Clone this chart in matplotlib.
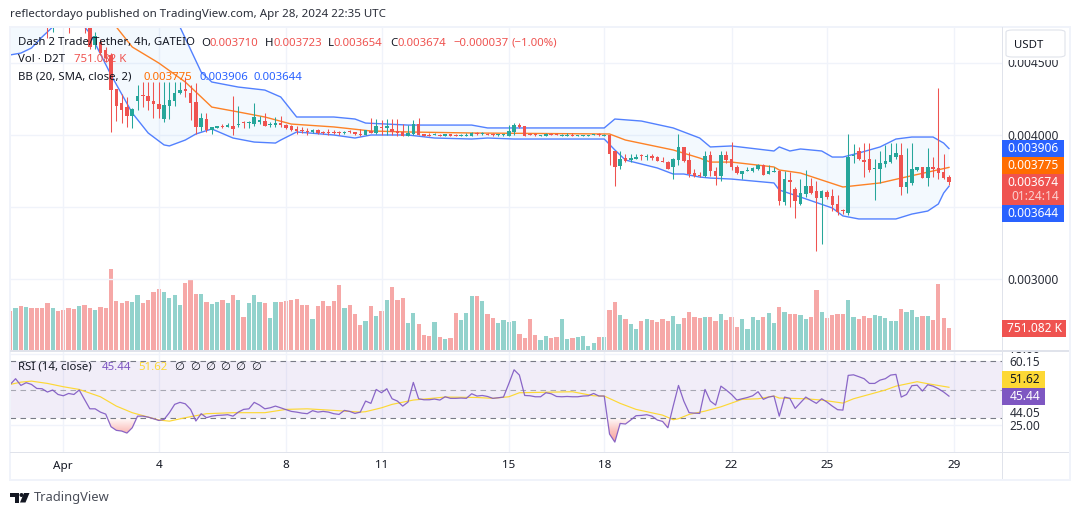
import matplotlib
matplotlib.use("Agg")
import matplotlib.pyplot as plt
import numpy as np
from matplotlib.patches import Polygon, Rectangle, FancyBboxPatch, Ellipse
from matplotlib.path import Path

W, H = 1080, 515

# prices are in millionths of USDT, bar 0 = Apr 1 00:00, one bar = 4h
bar_first, bar_last = -10, 167

open_p = [
    4960, 4930, 5010, 4970, 5060, 4990, 4920, 4880, 4790, 4860,
    4850, 4830, 4850, 4790, 4790, 4741, 4625, 4648, 4590, 4556,
    4317, 4220, 4197, 4134, 4238, 4278, 4271, 4236, 4213, 4111,
    4201, 4236, 4289, 4317, 4289, 4227, 4058, 4111, 4035, 4048,
    4065, 4058, 4062, 4069, 4090, 4086, 4076, 4092, 4097, 4067,
    4067, 4081, 4069, 4062, 4042, 4035, 4028, 4018, 4035, 4018,
    4021, 4018, 4016, 4012, 4025, 4018, 4007, 4000, 4030, 4016,
    4053, 4051, 4039, 4030, 4023, 3995, 4007, 4076, 4007, 4002,
    4000, 4002, 3993, 4007, 4002, 3995, 3995, 3995, 4016, 4005,
    4009, 4005, 3998, 3998, 3995, 4023, 4067, 4062, 4009, 4005,
    3995, 3995, 4009, 4009, 3995, 3995, 4002, 3995, 3995, 3995,
    4000, 4005, 3995, 4000, 3886, 3783, 3838, 3826, 3833, 3856,
    3849, 3852, 3849, 3819, 3812, 3778, 3826, 3917, 3826, 3736,
    3724, 3715, 3861, 3748, 3715, 3861, 3833, 3780, 3729, 3748,
    3750, 3764, 3794, 3729, 3745, 3750, 3537, 3687, 3625, 3518,
    3590, 3646, 3611, 3565, 3604, 3576, 3521, 3477, 3461, 3856,
    3891, 3826, 3833, 3766, 3766, 3799, 3815, 3845, 3861, 3641,
    3669, 3757, 3775, 3704, 3775, 3769, 3741, 3710,
]
high_p = [
    5000, 5040, 5060, 5100, 5120, 5050, 4980, 4960, 4900, 4920,
    4900, 4900, 4880, 4920, 4860, 4790, 4712, 4670, 4610, 4570,
    4317, 4285, 4266, 4185, 4347, 4366, 4366, 4366, 4366, 4366,
    4366, 4366, 4366, 4405, 4347, 4359, 4155, 4150, 4058, 4065,
    4076, 4086, 4271, 4201, 4097, 4097, 4224, 4132, 4155, 4092,
    4123, 4132, 4076, 4069, 4062, 4058, 4046, 4039, 4039, 4030,
    4039, 4035, 4030, 4028, 4032, 4023, 4039, 4035, 4116, 4109,
    4104, 4109, 4109, 4109, 4076, 4067, 4104, 4116, 4007, 4011,
    4014, 4009, 4007, 4007, 4009, 4007, 4014, 4018, 4018, 4018,
    4014, 4011, 4007, 4009, 4069, 4081, 4083, 4062, 4014, 4011,
    4000, 4011, 4011, 4014, 4009, 4011, 4011, 4000, 4000, 4000,
    4009, 4011, 4007, 4000, 3886, 3889, 3866, 3866, 3866, 3866,
    3866, 3866, 3851, 3845, 3816, 3838, 4007, 3917, 3880, 3762,
    3740, 3889, 3889, 3780, 3889, 3889, 3951, 3792, 3750, 3775,
    3780, 3799, 3799, 3792, 3775, 3757, 3750, 3745, 3636, 3692,
    3757, 3702, 3678, 3618, 3618, 3625, 3583, 3486, 4007, 3938,
    3919, 3947, 3942, 3831, 3889, 3933, 3942, 3945, 3942, 3907,
    3942, 3778, 3778, 3907, 3845, 4324, 3868, 3723,
]
low_p = [
    4900, 4900, 4950, 4940, 4960, 4880, 4830, 4676, 4718, 4770,
    4780, 4706, 4760, 4770, 4706, 4600, 4597, 4555, 4510, 4023,
    4099, 4081, 4053, 4046, 4174, 4192, 4174, 4116, 4116, 4092,
    4109, 4201, 4283, 4266, 4104, 4007, 4030, 4023, 4007, 4046,
    4046, 4053, 4000, 4053, 4048, 4048, 4062, 4076, 4062, 4053,
    4058, 4058, 4039, 4030, 4007, 4012, 4000, 4012, 4005, 4005,
    4000, 4005, 4000, 4005, 4012, 4000, 3995, 4000, 4011, 4007,
    4000, 4000, 4000, 3993, 3993, 3993, 4000, 4000, 3993, 3993,
    3998, 3993, 3993, 3993, 3993, 3993, 3993, 3993, 4000, 4002,
    3998, 3993, 3993, 3993, 3993, 4002, 4046, 3993, 3998, 3993,
    3995, 3993, 3998, 3998, 3993, 3993, 3993, 3993, 3995, 3995,
    3998, 3993, 3993, 3792, 3646, 3764, 3812, 3810, 3833, 3824,
    3826, 3826, 3817, 3810, 3764, 3695, 3792, 3810, 3711, 3708,
    3710, 3708, 3715, 3653, 3680, 3803, 3760, 3729, 3692, 3748,
    3745, 3757, 3722, 3729, 3745, 3514, 3514, 3502, 3424, 3514,
    3572, 3590, 3197, 3245, 3558, 3470, 3444, 3451, 3444, 3803,
    3824, 3711, 3745, 3551, 3664, 3780, 3803, 3833, 3583, 3597,
    3653, 3752, 3704, 3646, 3711, 3692, 3692, 3654,
]
close_p = [
    4930, 5010, 4970, 5060, 4990, 4920, 4880, 4800, 4860, 4800,
    4810, 4770, 4790, 4850, 4760, 4613, 4690, 4567, 4532, 4312,
    4201, 4174, 4134, 4178, 4271, 4273, 4238, 4215, 4180, 4208,
    4243, 4289, 4312, 4308, 4220, 4058, 4116, 4035, 4053, 4062,
    4058, 4067, 4042, 4074, 4086, 4090, 4123, 4104, 4065, 4074,
    4081, 4067, 4046, 4035, 4030, 4025, 4021, 4032, 4012, 4014,
    4014, 4014, 4012, 4023, 4018, 4005, 4002, 4035, 4016, 4062,
    4046, 4062, 4023, 4011, 3995, 4016, 4074, 4000, 3995, 3995,
    4007, 3995, 4007, 3993, 3995, 4000, 4002, 4016, 4009, 4011,
    4002, 3998, 4000, 4002, 4030, 4067, 4053, 3995, 4002, 3998,
    4000, 4009, 4002, 4002, 4002, 4002, 3995, 3998, 3998, 3998,
    4007, 3998, 4002, 3868, 3778, 3833, 3817, 3840, 3849, 3852,
    3856, 3843, 3819, 3815, 3766, 3833, 3917, 3819, 3729, 3715,
    3715, 3854, 3752, 3715, 3861, 3826, 3780, 3734, 3748, 3757,
    3769, 3794, 3722, 3748, 3750, 3544, 3694, 3676, 3542, 3595,
    3646, 3599, 3565, 3611, 3572, 3514, 3468, 3472, 3845, 3861,
    3831, 3815, 3757, 3771, 3803, 3819, 3861, 3877, 3641, 3676,
    3764, 3775, 3704, 3775, 3762, 3738, 3704, 3674,
]

# volume, thousands of D2T
volume_k = [
    1331, 1434, 1502, 1468, 1434, 1434, 1434, 1605, 1434, 1331,
    1366, 1434, 1400, 1502, 1536, 1434, 1366, 1468, 1434, 2765,
    1673, 1605, 1673, 1639, 1878, 1605, 1707, 1980, 2083, 1980,
    1775, 1878, 1536, 2287, 2390, 1912, 1912, 1639, 1570, 1639,
    1707, 1605, 1878, 1707, 1127, 1605, 1878, 1639, 1605, 1092,
    1639, 1639, 1673, 1707, 1741, 1536, 1536, 1058, 1502, 1673,
    1502, 1673, 2219, 1434, 1536, 1229, 854, 990, 1502, 1161,
    1331, 1707, 2151, 1707, 1775, 922, 1263, 888, 512, 478,
    956, 444, 376, 410, 1263, 1024, 1263, 1844, 1844, 1673,
    1229, 1092, 922, 1024, 956, 990, 546, 410, 1058, 512,
    341, 478, 410, 444, 1058, 376, 410, 444, 478, 137,
    239, 444, 444, 1366, 1639, 1195, 1058, 888, 717, 990,
    1058, 1024, 956, 1058, 990, 1161, 888, 1092, 1297, 1127,
    1092, 1127, 1127, 990, 1229, 1024, 1127, 785, 1058, 717,
    1127, 1024, 1127, 1263, 922, 1468, 1297, 1229, 1229, 1195,
    1058, 1127, 2048, 1297, 1092, 1195, 1229, 1229, 1707, 1127,
    1058, 1161, 1092, 1195, 1161, 1092, 990, 990, 1400, 1297,
    1366, 1127, 1161, 1161, 1024, 2253, 1092, 751,
]

# bollinger lines, read at their vertices (bar, value)
bb_upper_bars = [-10, 5, 15, 19, 22, 26, 28, 33, 38, 41, 44, 51, 55, 57, 65, 77, 80, 102, 104, 109,
                 115, 120, 122, 126, 134, 135, 137, 139, 143, 145, 147, 150, 154, 157, 160, 164, 166, 167]
bb_upper = [5300, 5400, 5200, 4980, 4750, 4437, 4368, 4333, 4312, 4264, 4125, 4125, 4111, 4083, 4069, 4069, 4049, 4049, 4111, 4097,
            4049, 3979, 3917, 3924, 3889, 3917, 3889, 3903, 3889, 3847, 3847, 3875, 3917, 3972, 3986, 3986, 3944, 3906]
bb_mid_bars = [-10, 0, 5, 10, 13, 18, 23, 26, 28, 33, 38, 43, 51, 58, 65, 77, 103, 106, 115, 120,
               122, 126, 134, 135, 139, 147, 154, 158, 167]
bb_mid = [4930, 4900, 4860, 4750, 4611, 4500, 4368, 4264, 4194, 4160, 4125, 4076, 4056, 4028, 4021, 4014, 4007, 3965, 3896, 3840,
          3812, 3812, 3778, 3757, 3736, 3639, 3667, 3701, 3775]
bb_lower_bars = [-10, -8, -6, -4, -2, -1, 2, 4, 5, 9, 13, 16, 19, 20, 23, 25, 28, 32, 36, 40,
                 41, 44, 51, 55, 58, 65, 70, 77, 80, 85, 102, 104, 106, 112, 115, 117, 120, 122, 126, 134,
                 135, 139, 145, 147, 150, 154, 157, 160, 163, 165, 166, 167]
bb_lower = [4556, 4569, 4604, 4681, 4750, 4850, 4850, 4750, 4708, 4417, 4153, 4014, 3931, 3924, 3965, 4007, 4042, 3979, 3951, 3944,
            3965, 4021, 4000, 3979, 4000, 4000, 3979, 3972, 3979, 3972, 3972, 3896, 3826, 3771, 3729, 3729, 3708, 3701, 3694, 3667,
            3618, 3569, 3493, 3438, 3417, 3417, 3417, 3451, 3472, 3521, 3597, 3644]

rsi = [
    53.6, 57.6, 52.9, 54.8, 53.6, 50.8, 50.6, 48.3, 49.7, 46.6,
    45.7, 47.3, 46.6, 49.7, 43.2, 36.6, 36.6, 34.3, 32.9, 24.1,
    21.6, 21.1, 19.7, 23.4, 31.5, 31.5, 30.8, 29.7, 28.5, 29.2,
    33.9, 39.7, 41.1, 40.1, 36.2, 28.1, 33.2, 30.4, 31.5, 32.0,
    32.2, 32.5, 31.5, 34.3, 36.2, 36.6, 41.1, 39.2, 36.6, 37.3,
    38.5, 37.3, 36.0, 34.8, 34.3, 33.6, 33.2, 35.3, 34.3, 34.8,
    34.3, 33.2, 32.7, 35.5, 34.8, 33.4, 34.3, 42.0, 40.4, 50.1,
    47.8, 50.6, 43.6, 42.0, 38.5, 41.3, 55.0, 43.6, 42.9, 42.9,
    43.4, 42.7, 45.0, 43.9, 43.9, 44.1, 43.9, 47.1, 45.5, 45.9,
    45.2, 43.9, 44.3, 44.8, 54.1, 63.8, 60.1, 45.9, 45.7, 45.0,
    45.0, 47.8, 47.1, 45.2, 45.0, 45.2, 45.0, 45.0, 45.5, 45.7,
    47.3, 45.5, 45.5, 19.0, 13.4, 26.4, 26.0, 28.8, 31.8, 32.0,
    32.5, 31.5, 28.8, 27.8, 23.4, 38.5, 52.9, 42.0, 33.9, 33.6,
    33.4, 50.1, 42.0, 39.2, 52.4, 49.7, 46.6, 42.7, 43.6, 44.5,
    45.7, 48.5, 43.2, 44.8, 45.5, 31.5, 44.8, 43.9, 36.9, 40.8,
    44.8, 42.5, 40.4, 43.6, 41.3, 38.5, 36.0, 35.7, 59.9, 60.3,
    59.0, 57.6, 54.3, 54.3, 56.6, 57.6, 60.1, 60.6, 44.8, 46.6,
    52.7, 53.1, 49.0, 53.4, 52.4, 50.6, 48.3, 45.44,
]
rsi_ma_bars = [-10, -8, -6, -3, 0, 3, 7, 10, 13, 18, 20, 23, 27, 32, 38, 42, 46, 51, 56, 57,
               60, 62, 66, 72, 78, 81, 84, 86, 96, 100, 102, 105, 108, 113, 115, 116, 118, 121, 124, 128,
               131, 134, 135, 140, 143, 147, 149, 155, 157, 161, 163, 167]
rsi_ma = [53.6, 55.2, 55.9, 54.3, 52.0, 50.1, 45.0, 38.5, 33.9, 28.8, 28.0, 30.4, 33.2, 33.9, 33.9, 36.2, 36.6, 35.5, 34.3, 34.6,
          37.3, 39.7, 42.7, 44.8, 44.5, 43.9, 45.0, 47.8, 48.5, 45.7, 45.5, 40.4, 36.2, 32.2, 29.0, 29.7, 32.7, 35.0, 38.0, 43.2,
          43.6, 45.5, 44.1, 43.6, 42.7, 40.6, 43.6, 49.7, 52.4, 55.5, 54.1, 51.62]

tick_bars = [0, 18, 42, 60, 84, 102, 126, 144, 168]
tick_labels = ["Apr", "4", "8", "11", "15", "18", "22", "25", "29"]
price_ticks = [3000, 3500, 4000, 4500]
price_tick_labels = ["0.003000", "", "0.004000", "0.004500"]

GREEN = "#26a69a"
RED = "#ef5350"
BLUE = "#2962ff"
ORANGE = "#ff6d00"
PURPLE = "#7e57c2"
YELLOW = "#fdd835"
GRID = "#f0f3fa"
EDGE = "#e0e3eb"
TEXT = "#131722"
AXIS_TEXT = "#2a2e39"
FONT = "Noto Sans"

plt.rcParams["font.family"] = [FONT, "DejaVu Sans"]

bars = np.arange(bar_first, bar_last + 1)
open_a, high_a, low_a, close_a = map(np.array, (open_p, high_p, low_p, close_p))
up = close_a >= open_a
colors = np.where(up, GREEN, RED)

fig = plt.figure(figsize=(W / 100, H / 100), dpi=100, facecolor="white")


def px_axes(x0, y0, x1, y1, **kw):
    # axes from pixel box, y measured from the top
    return fig.add_axes([x0 / W, 1 - y1 / H, (x1 - x0) / W, (y1 - y0) / H], **kw)


def ftext(x, y, s, **kw):
    kw.setdefault("va", "center")
    kw.setdefault("fontsize", 8.2)
    kw.setdefault("color", TEXT)
    return fig.text(x / W, 1 - (y + 1) / H, s, **kw)


def frect(x0, y0, x1, y1, color, z=5):
    fig.add_artist(Rectangle((x0 / W, 1 - y1 / H), (x1 - x0) / W, (y1 - y0) / H,
                             transform=fig.transFigure, facecolor=color, edgecolor="none", zorder=z))


xlim = (-10.05, 177.0)

# volume goes behind, on its own scale
ax_vol = px_axes(10, 27, 1002, 350)
ax_vol.set_xlim(xlim)
ax_vol.set_ylim(0, 323 * 34.1)
ax_vol.bar(bars, volume_k, width=0.8, color=colors, alpha=0.5, linewidth=0, zorder=2)
ax_vol.set_xticks([])
ax_vol.set_yticks([])
for s in ax_vol.spines.values():
    s.set_visible(False)

ax = px_axes(10, 27, 1002, 350)
ax.patch.set_alpha(0)
ax.set_xlim(xlim)
ax.set_ylim(2507, 4750)
ax.set_yticks(price_ticks)
ax.set_xticks(tick_bars)
ax.tick_params(length=0, labelleft=False, labelbottom=False)
ax.grid(True, color=GRID, linewidth=1.0, zorder=0)
ax.set_axisbelow(True)
for s in ax.spines.values():
    s.set_visible(False)

# band fill, then lines
band_x = np.r_[bb_upper_bars, bb_lower_bars[::-1]]
band_y = np.r_[bb_upper, bb_lower[::-1]]
ax.add_patch(Polygon(np.c_[band_x, band_y], closed=True, facecolor="#2196f3", alpha=0.05,
                     edgecolor="none", zorder=1))
ax.plot(bb_upper_bars, bb_upper, color=BLUE, lw=1.0, alpha=0.8, zorder=3)
ax.plot(bb_lower_bars, bb_lower, color=BLUE, lw=1.0, alpha=0.8, zorder=3)
ax.plot(bb_mid_bars, bb_mid, color=ORANGE, lw=1.0, alpha=0.85, zorder=3)

# candles
ax.vlines(bars, low_a, high_a, colors=colors, linewidth=0.75, zorder=4)
body_low = np.minimum(open_a, close_a)
body_h = np.maximum(np.abs(close_a - open_a), 6)
ax.bar(bars, body_h, bottom=body_low, width=0.66, color=colors, linewidth=0, zorder=5)

# rsi pane
ax_rsi = px_axes(10, 351, 1002, 452)
ax_rsi.set_xlim(xlim)
ax_rsi.set_ylim(6.5, 76.9)
ax_rsi.set_yticks([25, 75])
ax_rsi.set_xticks(tick_bars)
ax_rsi.tick_params(length=0, labelleft=False, labelbottom=False)
ax_rsi.grid(True, color=GRID, linewidth=1.0, zorder=0)
ax_rsi.set_axisbelow(True)
for s in ax_rsi.spines.values():
    s.set_visible(False)
ax_rsi.axhspan(30, 70, facecolor=PURPLE, alpha=0.1, linewidth=0, zorder=1)
ax_rsi.axhline(70, color="#787b86", lw=0.8, dashes=(5, 4), zorder=2)
ax_rsi.axhline(50, color="#787b86", lw=0.8, alpha=0.6, dashes=(5, 4), zorder=2)
ax_rsi.axhline(30, color="#787b86", lw=0.8, dashes=(5, 4), zorder=2)

# oversold shading runs from white at 30 down to pink
rsi_a = np.array(rsi)
under = ax_rsi.fill_between(bars, rsi_a, 30, where=rsi_a < 30, interpolate=True, facecolor="none", linewidth=0)
grad = np.linspace(0, 1, 64).reshape(-1, 1)
cmap = matplotlib.colors.LinearSegmentedColormap.from_list("os", ["#fffafa", "#fbc4c0", "#f9a09b"])
im = ax_rsi.imshow(grad, extent=(xlim[0], xlim[1], 30, 13), cmap=cmap, aspect="auto", zorder=1.5, origin="lower")
im.set_clip_path(Path.make_compound_path(*under.get_paths()), transform=ax_rsi.transData)
ax_rsi.set_xlim(xlim)
ax_rsi.set_ylim(6.5, 76.9)
ax_rsi.plot(rsi_ma_bars, rsi_ma, color=YELLOW, lw=0.85, zorder=3)
ax_rsi.plot(bars, rsi_a, color=PURPLE, lw=0.9, alpha=0.9, zorder=4)

# frame and pane separators
frect(9, 26, 1071, 27.5, GRID)
frect(9, 26, 11, 481, GRID)
frect(1069, 26, 1071, 481, GRID)
frect(9, 479, 1071, 481, GRID)
frect(10, 350, 1069, 351.5, EDGE)
frect(10, 451.5, 1069, 453, EDGE)
frect(1002, 27, 1003, 479, EDGE)

# header
ftext(10, 14, "reflectordayo published on TradingView.com, Apr 28, 2024 22:35 UTC", fontsize=8.3, color=AXIS_TEXT)

# legend
ftext(18, 42, "Dash 2 Trade/Tether, 4h, GATEIO", zorder=6)
for x, lab, xv, val in [(201, "O", 209, "0.003710"), (265, "H", 273, "0.003723"),
                        (328, "L", 334, "0.003654"), (390, "C", 397, "0.003674")]:
    ftext(x, 42, lab, zorder=6)
    ftext(xv, 42, val, color=RED, zorder=6)
ftext(453, 42, "\u22120.000037", color=RED, zorder=6)
ftext(512, 42, "(\u22121.00%)", color=RED, zorder=6)
ftext(18, 59, "Vol \u00b7 D2T", zorder=6)
ftext(74, 59, "751.082 K", color=RED, zorder=6)
ftext(18, 76, "BB (20, SMA, close, 2)", zorder=6)
ftext(143, 76, "0.003775", color=ORANGE, zorder=6)
ftext(199, 76, "0.003906", color=BLUE, zorder=6)
ftext(254, 76, "0.003644", color=BLUE, zorder=6)
ftext(18, 366, "RSI (14, close)", zorder=6)
ftext(102, 366, "45.44", color=PURPLE, zorder=6)
ftext(138, 366, "51.62", color=YELLOW, zorder=6)
for x in [179, 195, 210, 225, 240, 256]:
    ftext(x, 366, "\u2205", ha="center", zorder=6)

# price scale
for tick, lab in zip(price_ticks, price_tick_labels):
    if lab:
        ftext(1059, 135 + (4000 - tick) / 6.944, lab, ha="right", color=AXIS_TEXT, fontsize=8.6, zorder=4)
frect(1003, 28, 1069, 60, "white")
fig.add_artist(FancyBboxPatch((1006 / W, 1 - 57 / H), 59 / W, 27 / H, boxstyle="round,pad=0,rounding_size=0.006",
                              transform=fig.transFigure, facecolor="white", edgecolor=EDGE, linewidth=0.8,
                              mutation_aspect=H / W * 1.5, zorder=6))
ftext(1014, 44, "USDT", zorder=7)

for y0, y1, col, lab in [(140, 157, BLUE, "0.003906"), (157, 174, ORANGE, "0.003775"), (205, 222, BLUE, "0.003644")]:
    frect(1002, y0, 1064, y1, col)
    ftext(1059, (y0 + y1) / 2 - 1, lab, ha="right", color="white", fontsize=8.6, zorder=7)
frect(1002, 174, 1064, 204.5, RED)
ftext(1059, 181.5, "0.003674", ha="right", color="white", fontsize=8.6, zorder=7)
ftext(1059, 195.5, "01:24:14", ha="right", color="#fbd0cf", fontsize=8.6, zorder=7)
frect(1002, 320, 1066, 337, RED)
ftext(1062, 327.5, "751.082 K", ha="right", color="white", fontsize=8.6, zorder=7)

# rsi scale
ftext(1040, 348.5, "75.00", ha="right", color=AXIS_TEXT, fontsize=8.6, zorder=2)
frect(1003, 338, 1066, 350, "white", z=3)
frect(1003, 350, 1069, 351.5, EDGE, z=3)
ftext(1040, 362, "60.15", ha="right", color=AXIS_TEXT, fontsize=8.6)
frect(1002, 371, 1045, 388, YELLOW)
ftext(1040, 378.5, "51.62", ha="right", fontsize=8.6, zorder=7)
frect(1002, 388, 1045, 405, PURPLE)
ftext(1040, 395.5, "45.44", ha="right", color="white", fontsize=8.6, zorder=7)
ftext(1040, 412.5, "44.05", ha="right", color=AXIS_TEXT, fontsize=8.6)
ftext(1040, 425, "25.00", ha="right", color=AXIS_TEXT, fontsize=8.6)

# date axis
for bar, lab in zip(tick_bars, tick_labels):
    ftext(63.3 + 5.304 * bar, 465, lab, ha="center", color=TEXT, fontsize=8.4)

# logo + wordmark
logo = [
    [(10, 493), (19.5, 493), (19.5, 502.5), (14.5, 502.5), (14.5, 497), (10, 497)],
    [(24, 493), (29.5, 493), (25.5, 502.5), (20, 502.5)],
]
for pts in logo:
    fig.add_artist(Polygon([(x / W, 1 - y / H) for x, y in pts], closed=True, transform=fig.transFigure,
                           facecolor=TEXT, edgecolor="none", zorder=6))
fig.add_artist(Ellipse((21.5 / W, 1 - 495 / H), 4 / W, 4 / H, transform=fig.transFigure,
                       facecolor=TEXT, edgecolor="none", zorder=6))
ftext(33.5, 496, "TradingView", fontsize=9.3, color="#4a4e59")

fig.savefig("out.png", dpi=100, facecolor="white")
